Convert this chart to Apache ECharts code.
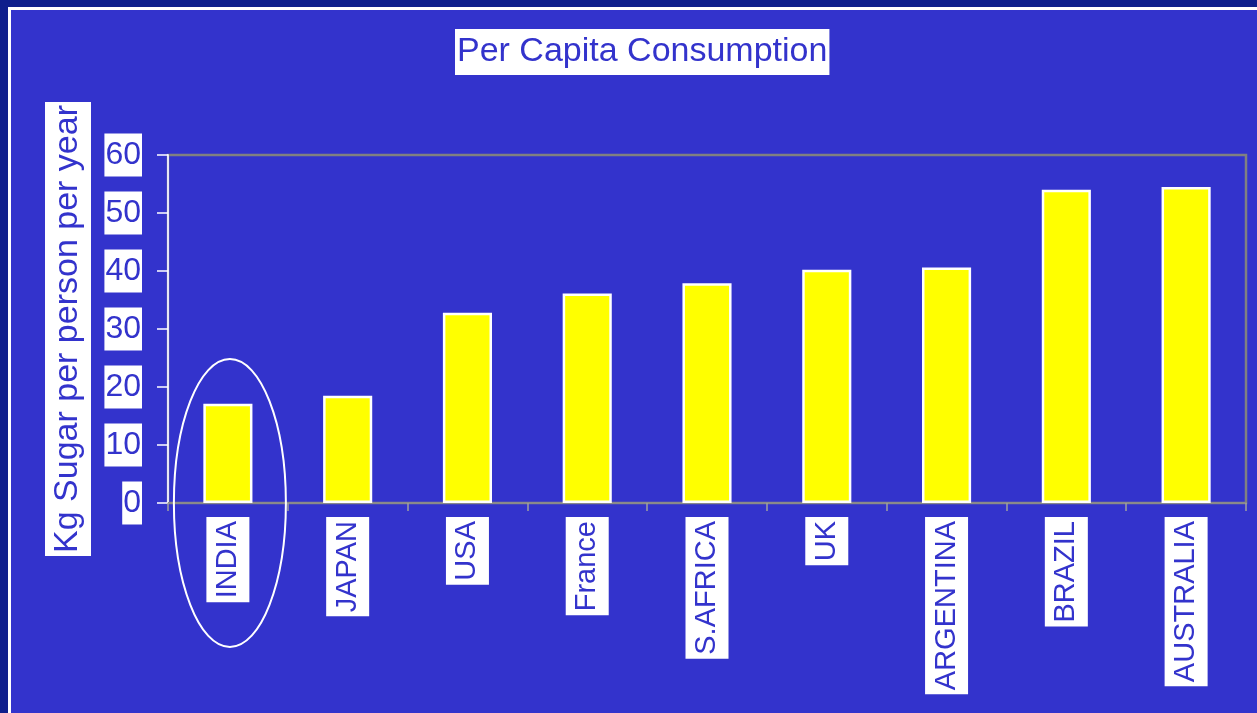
<!DOCTYPE html>
<html>
<head>
<meta charset="utf-8">
<script src="https://cdn.jsdelivr.net/npm/echarts@6/dist/echarts.min.js"></script>
<style>
  html, body { margin: 0; padding: 0; width: 1257px; height: 713px; overflow: hidden; background: #0F1F8C; }
  #frame { position: absolute; left: 8px; top: 7px; width: 1300px; height: 760px; background: #3333CC;
           border-left: 3px solid #ffffff; border-top: 3px solid #ffffff; }
  #chart { position: absolute; left: 0; top: 0; width: 1257px; height: 713px; }
</style>
</head>
<body>
<div id="frame"></div>
<div id="chart"></div>
<script>
// Per capita sugar consumption, kg per person per year
const countries = ['INDIA', 'JAPAN', 'USA', 'France', 'S.AFRICA', 'UK', 'ARGENTINA', 'BRAZIL', 'AUSTRALIA'];
const consumption = [17.1, 18.5, 32.8, 36.1, 37.9, 40.2, 40.6, 54.0, 54.5];
const yTicks = [0, 10, 20, 30, 40, 50, 60];
const highlighted = 'INDIA';

const FONT = '"Liberation Sans", Arial, sans-serif';
const INK = '#3333CC';

const chart = echarts.init(document.getElementById('chart'), null, { renderer: 'canvas' });

chart.setOption({
  backgroundColor: 'transparent',
  animation: false,
  title: {
    text: 'Per Capita Consumption',
    left: 455,
    top: 29,
    backgroundColor: '#ffffff',
    padding: [3, 2, 3, 2],
    textStyle: {
      fontFamily: FONT,
      fontSize: 34,
      fontWeight: 'normal',
      color: INK,
      lineHeight: 40
    }
  },
  grid: {
    left: 168,
    top: 155,
    right: 11,
    bottom: 210,
    show: true,
    borderColor: '#808080',
    borderWidth: 2.5,
    backgroundColor: 'transparent'
  },
  xAxis: {
    type: 'category',
    data: countries,
    axisLine: { show: true, lineStyle: { color: '#8a8a8a', width: 2 } },
    axisTick: { show: true, length: 8, lineStyle: { color: '#a0a0a0', width: 1.5 } },
    axisLabel: {
      interval: 0,
      rotate: 90,
      margin: 14,
      fontFamily: FONT,
      fontSize: 29,
      color: INK,
      backgroundColor: '#ffffff',
      lineHeight: 35,
      padding: [4, 4, 4, 4]
    },
    splitLine: { show: false }
  },
  yAxis: {
    type: 'value',
    min: yTicks[0],
    max: yTicks[yTicks.length - 1],
    interval: yTicks[1] - yTicks[0],
    name: 'Kg Sugar per person per year',
    nameLocation: 'middle',
    nameRotate: 90,
    nameGap: 77,
    nameTextStyle: {
      fontFamily: FONT,
      fontSize: 34,
      color: INK,
      backgroundColor: '#ffffff',
      lineHeight: 40,
      padding: [3, 3, 3, 3]
    },
    axisLine: { show: true, lineStyle: { color: '#e8e8f4', width: 2 } },
    axisTick: { show: true, length: 11, lineStyle: { color: '#ffffff', width: 1.5 } },
    axisLabel: {
      margin: 26,
      fontFamily: FONT,
      fontSize: 32,
      color: INK,
      backgroundColor: '#ffffff',
      lineHeight: 39,
      padding: [2, 1, 2, 1]
    },
    splitLine: { show: false }
  },
  series: [{
    type: 'bar',
    data: consumption,
    barWidth: '41%',
    itemStyle: { color: '#FFFF00', borderColor: '#ffffff', borderWidth: 2.5 }
  }]
});

// White oval ring around the highlighted country, centred on its bar base
const base = chart.convertToPixel({ xAxisIndex: 0, yAxisIndex: 0 }, [highlighted, 0]);
chart.setOption({
  graphic: [{
    type: 'ellipse',
    z: 100,
    shape: { cx: base[0] + 2, cy: base[1], rx: 56, ry: 144 },
    style: { fill: 'none', stroke: '#ffffff', lineWidth: 2 }
  }]
});
</script>
</body>
</html>
